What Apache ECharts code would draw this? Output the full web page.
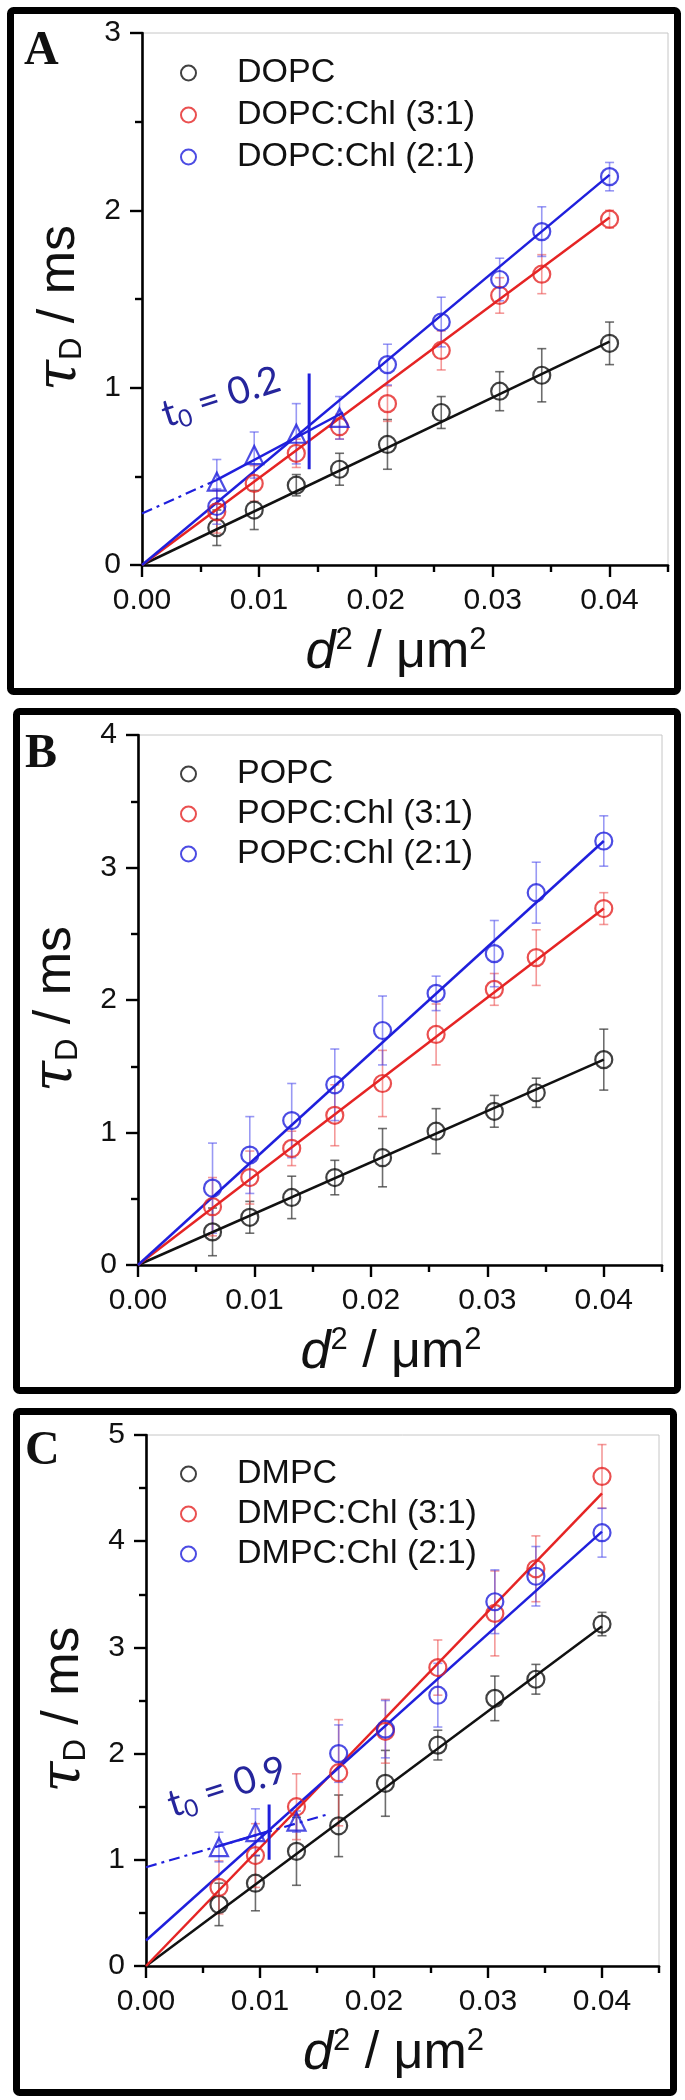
<!DOCTYPE html>
<html><head><meta charset="utf-8">
<script src="https://cdn.jsdelivr.net/npm/echarts@6/dist/echarts.min.js"></script>
<style>html,body{margin:0;padding:0;background:#fff}#c{width:685px;height:2100px}</style>
</head><body><div id="c"></div>
<script>
// ---------- data ----------
const X = [0.0064, 0.0096, 0.0132, 0.0169, 0.021, 0.0256, 0.0306, 0.0342, 0.04];
const xTickValues = [0, 0.01, 0.02, 0.03, 0.04];
const xMinorValues = [0.005, 0.015, 0.025, 0.035, 0.045];

// Panel A
const A_names = ['DOPC', 'DOPC:Chl (3:1)', 'DOPC:Chl (2:1)'];
const A_black = [0.21, 0.31, 0.45, 0.54, 0.68, 0.86, 0.98, 1.07, 1.25];
const A_blackErr = [0.10, 0.11, 0.06, 0.09, 0.14, 0.09, 0.11, 0.15, 0.12];
const A_red = [0.30, 0.46, 0.63, 0.78, 0.91, 1.21, 1.52, 1.64, 1.95];
const A_redErr = [0.12, 0.10, 0.08, 0.07, 0.10, 0.11, 0.10, 0.11, 0.05];
const A_blueX = [0.0064, 0.021, 0.0256, 0.0306, 0.0342, 0.04];
const A_blue = [0.33, 1.13, 1.37, 1.61, 1.88, 2.19];
const A_blueErr = [0.10, 0.115, 0.14, 0.12, 0.14, 0.08];
const A_triX = [0.0064, 0.0096, 0.0132, 0.0169];
const A_tri = [0.47, 0.62, 0.74, 0.83];
const A_triErr = [0.125, 0.13, 0.17, 0.12];
const A_fitBlack = [[0, 0], [0.04, 1.26]];
const A_fitRed = [[0, 0], [0.04, 1.96]];
const A_fitBlue = [[0, 0], [0.04, 2.2]];
const A_triFit = [[0.0064, 0.48], [0.0172, 0.86]];
const A_triExt = [[0, 0.29], [0.0064, 0.48]];
const A_mark = [[0.0143, 0.54], [0.0143, 1.08]];
const A_t0 = '0.2';

// Panel B
const B_names = ['POPC', 'POPC:Chl (3:1)', 'POPC:Chl (2:1)'];
const B_black = [0.25, 0.36, 0.51, 0.66, 0.81, 1.01, 1.16, 1.30, 1.55];
const B_blackErr = [0.18, 0.12, 0.16, 0.13, 0.22, 0.17, 0.12, 0.11, 0.23];
const B_red = [0.44, 0.66, 0.88, 1.13, 1.37, 1.74, 2.08, 2.32, 2.69];
const B_redErr = [0.22, 0.20, 0.13, 0.23, 0.25, 0.23, 0.12, 0.21, 0.12];
const B_blue = [0.58, 0.83, 1.09, 1.36, 1.77, 2.05, 2.35, 2.81, 3.20];
const B_blueErr = [0.34, 0.29, 0.28, 0.27, 0.26, 0.13, 0.25, 0.23, 0.19];
const B_fitBlack = [[0, 0], [0.04, 1.55]];
const B_fitRed = [[0, 0], [0.04, 2.69]];
const B_fitBlue = [[0, 0], [0.04, 3.2]];

// Panel C
const C_names = ['DMPC', 'DMPC:Chl (3:1)', 'DMPC:Chl (2:1)'];
const C_black = [0.58, 0.78, 1.08, 1.32, 1.72, 2.08, 2.52, 2.70, 3.22];
const C_blackErr = [0.20, 0.26, 0.32, 0.29, 0.31, 0.14, 0.21, 0.14, 0.11];
const C_red = [0.74, 1.04, 1.50, 1.82, 2.21, 2.81, 3.32, 3.74, 4.61];
const C_redErr = [0.25, 0.30, 0.31, 0.50, 0.30, 0.26, 0.40, 0.31, 0.30];
const C_blueX = [0.0169, 0.021, 0.0256, 0.0306, 0.0342, 0.04];
const C_blue = [2.00, 2.23, 2.55, 3.43, 3.67, 4.08];
const C_blueErr = [0.27, 0.27, 0.30, 0.30, 0.28, 0.23];
const C_triX = [0.0064, 0.0096, 0.0132];
const C_tri = [1.12, 1.26, 1.36];
const C_triErr = [0.14, 0.22, 0.10];
const C_fitBlack = [[0, 0], [0.04, 3.2]];
const C_fitRed = [[0, 0], [0.04, 4.45]];
const C_fitBlue = [[0, 0.24], [0.04, 4.09]];
const C_triFit = [[0.0064, 1.13], [0.0108, 1.27]];
const C_triExt = [[0, 0.93], [0.016, 1.43]];
const C_mark = [[0.0108, 1.0], [0.0108, 1.52]];
const C_t0 = '0.9';

// ---------- styling / layout ----------
const BLACK = '#111111', RED = '#e52424', BLUE = '#1f1fdc';
const ERR_BLACK = 'rgba(60,60,60,0.75)', ERR_RED = 'rgba(235,70,70,0.55)', ERR_BLUE = 'rgba(70,70,235,0.55)';
const ANNOT = '#25259c';
const SANS = '"Liberation Sans", Arial, sans-serif';

const panels = [
  {label: 'A', names: A_names, ymax: 3, grid: {left: 142, top: 33, width: 526, height: 532},
   legendTop: 51, legendGap: 8, frame: [10.5, 10.5, 667, 681], labelPos: [24, 52],
   black: A_black, blackErr: A_blackErr, red: A_red, redErr: A_redErr,
   blueX: A_blueX, blue: A_blue, blueErr: A_blueErr,
   triX: A_triX, tri: A_tri, triErr: A_triErr,
   fits: [A_fitBlack, A_fitRed, A_fitBlue], triFit: A_triFit, triExt: A_triExt, mark: A_mark,
   t0: A_t0, t0Pos: [221, 397]},
  {label: 'B', names: B_names, ymax: 4, grid: {left: 138, top: 735, width: 524, height: 530},
   legendTop: 752, legendGap: 6, frame: [16.5, 711.5, 661, 679], labelPos: [25, 755],
   black: B_black, blackErr: B_blackErr, red: B_red, redErr: B_redErr,
   blueX: X, blue: B_blue, blueErr: B_blueErr,
   triX: null, fits: [B_fitBlack, B_fitRed, B_fitBlue]},
  {label: 'C', names: C_names, ymax: 5, grid: {left: 146, top: 1435, width: 513, height: 531},
   legendTop: 1452, legendGap: 6, frame: [16.5, 1411.5, 657, 681], labelPos: [25, 1452],
   black: C_black, blackErr: C_blackErr, red: C_red, redErr: C_redErr,
   blueX: C_blueX, blue: C_blue, blueErr: C_blueErr,
   triX: C_triX, tri: C_tri, triErr: C_triErr,
   fits: [C_fitBlack, C_fitRed, C_fitBlue], triFit: C_triFit, triExt: C_triExt, mark: C_mark,
   t0: C_t0, t0Pos: [227, 1787]}
];

function pts(xs, ys) { return xs.map((x, i) => [x, ys[i]]); }
function errData(xs, ys, es) { return xs.map((x, i) => [x, ys[i] - es[i], ys[i] + es[i]]); }

function errSeries(p, data, color) {
  return {
    type: 'custom', xAxisIndex: 2 * p, yAxisIndex: p, data: data, z: 1, silent: true,
    encode: {x: 0, y: [1, 2]},
    renderItem: function (params, api) {
      const x = api.value(0), lo = api.value(1), hi = api.value(2);
      const a = api.coord([x, hi]), b = api.coord([x, lo]);
      const hw = 4.5;
      const st = {stroke: color, lineWidth: 1.6, fill: null};
      return {type: 'group', children: [
        {type: 'line', shape: {x1: a[0], y1: a[1], x2: b[0], y2: b[1]}, style: st},
        {type: 'line', shape: {x1: a[0] - hw, y1: a[1], x2: a[0] + hw, y2: a[1]}, style: st},
        {type: 'line', shape: {x1: b[0] - hw, y1: b[1], x2: b[0] + hw, y2: b[1]}, style: st}
      ]};
    }
  };
}
function lineSeries(p, data, color, type, width) {
  return {type: 'line', xAxisIndex: 2 * p, yAxisIndex: p, data: data, z: 2, silent: true,
    symbol: 'none', showSymbol: false,
    lineStyle: {color: color, width: width || 2.5, type: type || 'solid'}};
}
function scatterSeries(p, name, data, color, symbol, size) {
  const s = {type: 'scatter', xAxisIndex: 2 * p, yAxisIndex: p, data: data, z: 3,
    symbol: symbol || 'circle', symbolSize: size || 17,
    itemStyle: {color: 'rgba(255,255,255,0)', borderColor: color, borderWidth: 2.2}};
  if (name) s.name = name;
  return s;
}

const grid = [], xAxis = [], yAxis = [], legend = [], series = [], elements = [];

panels.forEach((P, p) => {
  grid.push({left: P.grid.left, top: P.grid.top, width: P.grid.width, height: P.grid.height,
    show: true, borderColor: '#c6c6c6', borderWidth: 1, backgroundColor: 'rgba(0,0,0,0)',
    containLabel: false, outerBoundsMode: 'none'});

  xAxis.push({type: 'value', gridIndex: p, min: 0, max: 0.045, position: 'bottom',
    axisLine: {show: true, onZero: false, lineStyle: {color: '#000', width: 2.6}},
    axisTick: {show: true, inside: false, length: 12, customValues: xTickValues, lineStyle: {color: '#000', width: 2.4}},
    axisLabel: {show: true, customValues: xTickValues, formatter: v => v.toFixed(2), fontSize: 30,
      fontFamily: SANS, color: BLACK, margin: 21},
    splitLine: {show: false},
    name: '{i|d}{p|2}{n| / μm}{p|2}', nameLocation: 'middle', nameGap: 60,
    nameTextStyle: {fontSize: 52, fontFamily: SANS, color: BLACK, lineHeight: 56, padding: [0, 18, 0, 0],
      rich: {
        i: {fontSize: 54, fontStyle: 'italic', fontFamily: SANS, color: BLACK, lineHeight: 56},
        p: {fontSize: 31, fontFamily: SANS, color: BLACK, lineHeight: 34, verticalAlign: 'top'},
        n: {fontSize: 52, fontFamily: SANS, color: BLACK, lineHeight: 56}
      }}
  });
  xAxis.push({type: 'value', gridIndex: p, min: 0, max: 0.045, position: 'bottom',
    axisLine: {show: false, onZero: false},
    axisTick: {show: true, inside: false, length: 7, customValues: xMinorValues, lineStyle: {color: '#000', width: 2.4}},
    axisLabel: {show: false}, splitLine: {show: false}});

  yAxis.push({type: 'value', gridIndex: p, min: 0, max: P.ymax, interval: 1,
    axisLine: {show: true, onZero: false, lineStyle: {color: '#000', width: 2.6}},
    axisTick: {show: true, inside: false, length: 12, lineStyle: {color: '#000', width: 2.4}},
    minorTick: {show: true, splitNumber: 2, length: 7, lineStyle: {color: '#000', width: 2.4}},
    minorSplitLine: {show: false}, splitLine: {show: false},
    axisLabel: {fontSize: 30, fontFamily: SANS, color: BLACK, margin: 21},
    name: '{t|τ}{s|D}{n| / ms}', nameLocation: 'middle', nameRotate: 90, nameGap: 54,
    nameTextStyle: {fontSize: 52, fontFamily: SANS, color: BLACK, lineHeight: 56, padding: [0, 18, 0, 0],
      rich: {
        t: {fontSize: 56, fontStyle: 'italic', fontFamily: '"DejaVu Serif", serif', color: BLACK, lineHeight: 56},
        s: {fontSize: 31, fontFamily: SANS, color: BLACK, lineHeight: 34, verticalAlign: 'bottom'},
        n: {fontSize: 52, fontFamily: SANS, color: BLACK, lineHeight: 56}
      }}
  });

  legend.push({data: P.names, orient: 'vertical', left: 175, top: P.legendTop,
    itemWidth: 15, itemHeight: 15, itemGap: P.legendGap, selectedMode: false,
    itemStyle: {borderWidth: 2},
    textStyle: {fontSize: 34, fontFamily: SANS, color: BLACK, lineHeight: 34, padding: [0, 0, 0, 36]}});

  // error bars
  series.push(errSeries(p, errData(X, P.black, P.blackErr), ERR_BLACK));
  series.push(errSeries(p, errData(X, P.red, P.redErr), ERR_RED));
  series.push(errSeries(p, errData(P.blueX, P.blue, P.blueErr), ERR_BLUE));
  if (P.triX) series.push(errSeries(p, errData(P.triX, P.tri, P.triErr), ERR_BLUE));

  // fit lines
  series.push(lineSeries(p, P.fits[0], BLACK));
  series.push(lineSeries(p, P.fits[1], RED));
  series.push(lineSeries(p, P.fits[2], BLUE));
  if (P.triX) {
    series.push(lineSeries(p, P.triExt, BLUE, [11, 5, 3, 5], 2.2));
    series.push(lineSeries(p, P.triFit, BLUE));
    series.push(lineSeries(p, P.mark, BLUE, 'solid', 3));
  }

  // markers
  series.push(scatterSeries(p, P.names[0], pts(X, P.black), BLACK));
  series.push(scatterSeries(p, P.names[1], pts(X, P.red), RED));
  series.push(scatterSeries(p, P.names[2], pts(P.blueX, P.blue), BLUE));
  if (P.triX) series.push(scatterSeries(p, null, pts(P.triX, P.tri), BLUE, 'triangle', 18));

  // frame & label
  elements.push({type: 'rect', z: 100, silent: true,
    shape: {x: P.frame[0], y: P.frame[1], width: P.frame[2], height: P.frame[3], r: 3},
    style: {fill: 'none', stroke: '#000', lineWidth: 7}});
  elements.push({type: 'text', z: 100, silent: true, x: P.labelPos[0], y: P.labelPos[1],
    style: {text: P.label, font: 'bold 48px "Liberation Serif", serif', fill: '#111', align: 'left', verticalAlign: 'middle'}});
  if (P.t0) {
    elements.push({type: 'text', z: 100, silent: true, x: P.t0Pos[0], y: P.t0Pos[1], rotation: 0.31,
      style: {text: '{a|t}{b|0}{a| = ' + P.t0 + '}', align: 'center', verticalAlign: 'middle',
        rich: {
          a: {fontSize: 38, fontFamily: 'Lato, "Open Sans", sans-serif', fill: ANNOT, lineHeight: 44},
          b: {fontSize: 24, fontFamily: 'Lato, "Open Sans", sans-serif', fill: ANNOT, lineHeight: 26, verticalAlign: 'bottom'}
        }}});
  }
});

const chart = echarts.init(document.getElementById('c'), null, {renderer: 'canvas', width: 685, height: 2100});
chart.setOption({
  animation: false,
  backgroundColor: '#ffffff',
  grid: grid, xAxis: xAxis, yAxis: yAxis, legend: legend, series: series,
  graphic: {elements: elements}
});
</script>
</body></html>
